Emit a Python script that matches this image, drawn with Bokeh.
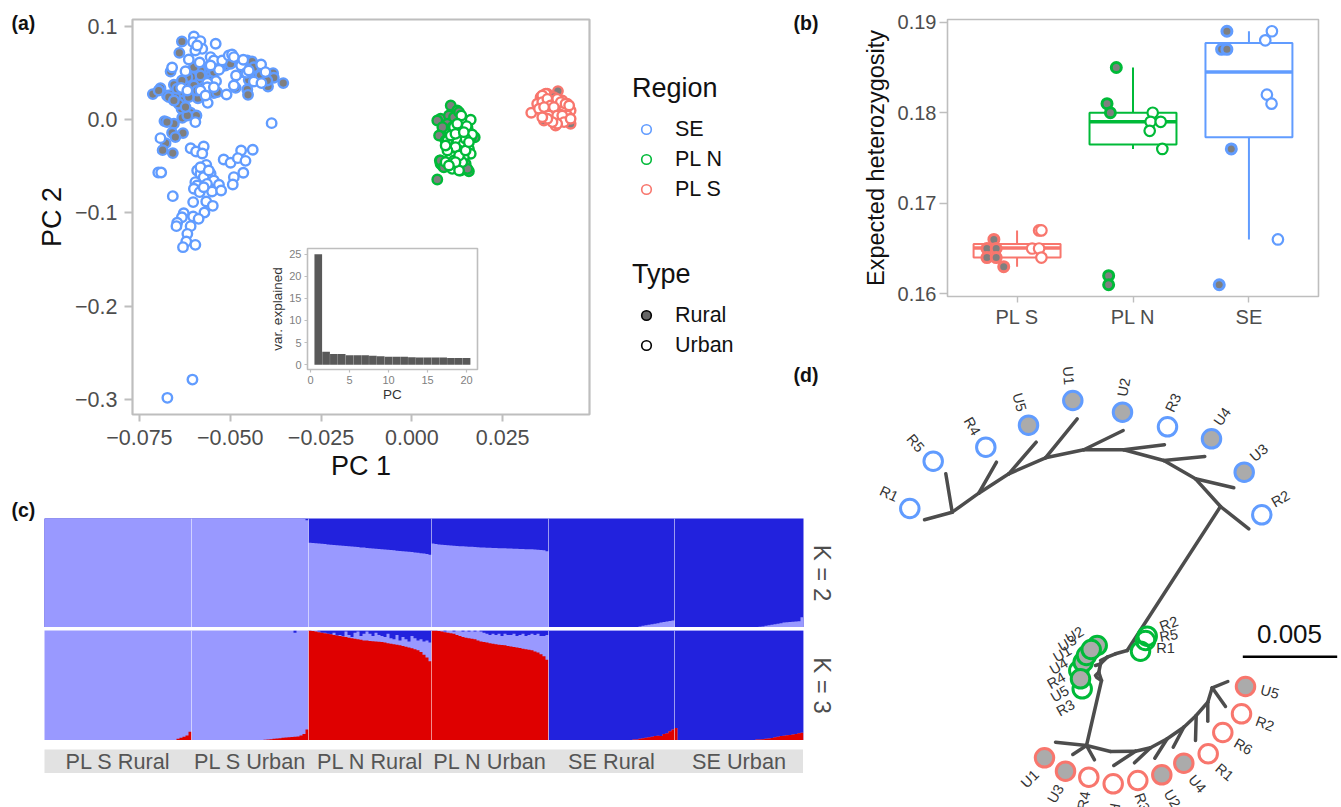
from bokeh.plotting import figure
from bokeh.models import (Column, FixedTicker, Range1d, Legend, LegendItem, Label, Title)
from bokeh.embed import file_html
from bokeh.resources import INLINE
from bokeh.core.properties import value

FONT = "Liberation Sans"
RED, GREEN, BLUE = "#F8766D", "#00BA38", "#619CFF"
GRID = "#BEBEBE"
TICK = "#4D4D4D"
GREY_FILL = "#7F7F7F"

# ---------- panel (a) : PCA ----------
se_rural_x = [-.0633,-.0640,-.0664,-.0575,-.0605,-.0556,-.0453,-.0440,-.0426,-.0382,-.0354,-.0380,-.0396,-.0449,-.0453,-.0451,-.0485,-.0552,-.0655,-.0692,-.0713,-.0674,-.0663,-.0642,-.0600,-.0556,-.0589,-.0637,-.0634,-.0609,-.0593,-.0632,-.0655,-.0681,-.0660,-.0630,-.0651,-.0678,-.0686,-.0658,-.0545,-.0628,-.0582,-.0485,-.0513,-.0545,-.0600,-.0651,-.0642,-.0674,-.0618,-.0545,-.0582,-.0426,-.0618,-.0582,-.0559,-.0646,-.0614,-.0573,-.0536,-.0591,-.0669,-.0697,-.0655,-.0623,-.0472,-.0499,-.0527,-.0417,-.0398,-.0467,-.0435,-.0600,-.0633]
se_rural_y = [.0841,.0719,.0519,.0515,.0458,.0583,.0637,.0626,.0530,.0501,.0394,.0451,.0358,.0429,.0326,.0268,.0343,.0487,.0376,.0340,.0276,.0261,.0268,.0279,.0308,.0301,.0232,.0207,.0118,.0075,.0046,.0021,-.0043,-.0014,-.0140,-.0143,-.0186,-.0251,-.0326,-.0358,.0286,.0386,.0422,.0637,.0583,.0512,.0368,.0243,.0172,-.0025,.0046,.0601,.0530,.0458,.0458,.0476,.0422,.0333,.0243,.0350,.0297,.0315,.0243,.0315,.0207,.0136,.0601,.0601,.0565,.0476,.0422,.0512,.0565,.0565,.0422]
se_urban_x = [-.0600,-.0602,-.0582,-.0577,-.0540,-.0596,-.0614,-.0584,-.0554,-.0545,-.0522,-.0504,-.0495,-.0470,-.0484,-.0455,-.0415,-.0403,-.0435,-.0414,-.0490,-.0510,-.0531,-.0539,-.0563,-.0623,-.0660,-.0635,-.0562,-.0596,-.0386,-.0692,-.0573,-.0609,-.0594,-.0577,-.0470,-.0438,-.0518,-.0499,-.0479,-.0458,-.0464,-.0490,-.0493,-.0566,-.0591,-.0582,-.0554,-.0573,-.0545,-.0596,-.0591,-.0564,-.0531,-.0600,-.0584,-.0550,-.0525,-.0658,-.0602,-.0566,-.0548,-.0571,-.0628,-.0633,-.0602,-.0587,-.0646,-.0648,-.0609,-.0618,-.0621,-.0630,-.0596,-.0698,-.0690,-.0554,-.0591,-.0563,-.0582,-.0545,-.0618,-.0568,-.0490,-.0464,-.0449,-.0582,-.0559,-.0573,-.0604,-.0673]
se_urban_y = [.0895,.0834,.0845,.0762,.0816,.0744,.0648,.0616,.0673,.0637,.0637,.0691,.0701,.0583,.0476,.0505,.0594,.0512,.0411,.0394,.0369,.0272,.0537,.0415,.0397,.0522,.0562,.0343,.0182,-.0025,-.0036,-.0197,-.0287,-.0305,-.0340,-.0362,-.0330,-.0322,-.0426,-.0462,-.0412,-.0441,-.0569,-.0616,-.0695,-.0484,-.0544,-.0580,-.0580,-.0616,-.0652,-.0670,-.0706,-.0688,-.0698,-.0741,-.0777,-.0770,-.0759,-.0820,-.0884,-.0877,-.0924,-.0996,-.1003,-.1046,-.1039,-.1064,-.1106,-.1142,-.1142,-.1225,-.1307,-.1368,-.1343,-.0566,-.0566,.0583,.0798,.0350,.0315,.0350,.0315,.0261,.0673,.0644,.0530,-.0509,-.0544,-.0724,-.2790,-.2986]
pln_rural_x = [.0070,.0157,.0079,.0102,.0148,.0079,.0102,.0107,.0081,.0173,.0125,.0084,.0098,.0088,.0111,.0153,.0077,.0134,.0070,.0084,.0075,.0093,.0079,.0088,.0153,.0162,.0157,.0116,.0130]
pln_rural_y = [-.0641,-.0552,-.0473,-.0501,-.0473,.0011,.0046,.0154,-.0158,-.0187,.0100,-.0491,-.0043,-.0187,-.0079,-.0079,-.0437,-.0544,-.0007,-.0079,-.0169,-.0222,-.0437,-.0509,-.0527,-.0193,-.0133,.0028,.0082]
pln_urban_x = [.0136,.0162,.0116,.0151,.0134,.0166,.0116,.0125,.0143,.0107,.0157,.0130,.0107,.0162,.0143,.0093,.0116,.0139,.0111,.0130,.0098,.0120,.0107,.0120,.0148,.0098,.0130,.0148,.0120,.0102,.0143,.0125,.0157,.0093]
pln_urban_y = [.0046,.0000,-.0079,-.0068,-.0169,-.0158,-.0222,-.0222,-.0258,-.0294,-.0312,-.0330,-.0383,-.0365,-.0401,-.0455,-.0437,-.0455,-.0527,-.0544,-.0222,-.0294,-.0169,-.0151,-.0204,-.0330,-.0383,-.0330,-.0455,-.0491,-.0133,-.0043,-.0240,-.0276]
pls_rural_x = [.03727,.04021,.03636,.04370,.04278,.03911,.04186,.03544]
pls_rural_y = [.0279,.0308,-.0007,-.0043,.0172,.0243,.0028,.0243]
pls_urban_x = [.03287,.03544,.03682,.03911,.04140,.04278,.04370,.03727,.03957,.04095,.03819,.04076,.03957,.04232,.03590,.03773,.04003,.04186,.03636,.03865,.04049,.04278,.0345,.0359,.0373,.0382,.0400,.0410,.0423,.0433,.0350,.0364,.0377,.0391,.0400,.0414,.0419,.0400,.0387,.0373,.0437,.0359]
pls_urban_y = [.0075,.0161,.0279,.0207,.0207,.0100,.0100,.0100,.0100,.0100,.0011,.0003,-.0061,.0011,.0261,.0190,.0154,.0136,.0082,.0046,.0064,.0046,.0172,.0190,.0225,.0154,.0225,.0190,.0172,.0154,.0118,.0136,.0046,.0136,.0046,.0046,-.0025,-.0043,-.0025,.0011,.0011,.0028]

# inset scree plot
pc = list(range(1, 21))
var_explained = [25.0,2.9,2.4,2.4,2.1,2.1,2.1,2.0,1.9,1.8,1.8,1.8,1.7,1.6,1.6,1.6,1.6,1.5,1.5,1.5]

# ---------- panel (b) : heterozygosity ----------
box_x = [1, 2, 3]
box_low = [.163, .176, .166]
box_q1 = [.1640, .1765, .1773]
box_med = [.16505, .1790, .1845]
box_q3 = [.1655, .1800, .1877]
box_high = [.167, .185, .189]
box_colors = [RED, GREEN, BLUE]
het_rural_x = [.80,.74,.82,.74,.82,.885, 1.856,1.776,1.805,1.79,1.79, 2.81,2.764,2.81,2.848,2.744]
het_rural_y = [.166,.165,.165,.164,.164,.163, .185,.181,.180,.162,.161, .189,.187,.187,.176,.161]
het_urban_x = [1.19,1.21,1.13,1.19,1.21, 2.17,2.152,2.239,2.144,2.253, 3.198,3.141,3.155,3.195,3.25]
het_urban_y = [.167,.167,.165,.165,.164, .18,.179,.179,.178,.176, .189,.188,.182,.181,.166]
het_rural_c = [RED]*6 + [GREEN]*5 + [BLUE]*5
het_urban_c = [RED]*5 + [GREEN]*5 + [BLUE]*5

# ---------- panel (c) : ancestry ----------
groups = ["PL S Rural", "PL S Urban", "PL N Rural", "PL N Urban", "SE Rural", "SE Urban"]
k2_light = [
    [1.0]*49,
    [1.0]*37 + [.995,.985],
    [.777,.775,.772,.770,.768,.765,.762,.760,.757,.755,.752,.750,.748,.745,.742,.740,.738,.735,.733,.730,.728,.725,.722,.720,.718,.715,.713,.710,.708,.705,.702,.700,.697,.695,.692,.688,.685,.681,.678,.674,.668],
    [.770,.765,.762,.760,.757,.755,.752,.750,.748,.746,.745,.743,.741,.740,.738,.736,.735,.733,.732,.731,.730,.729,.728,.727,.726,.725,.724,.723,.722,.721,.720,.719,.718,.717,.716,.714,.712,.708,.700],
    [0.0]*29 + [.005,.010,.015,.020,.025,.030,.035,.040,.045,.050,.055,.060,.065],
    [0.0]*26 + [.003,.005,.008,.010,.015,.020,.025,.030,.035,.040,.045,.048,.050,.052,.055,.058,.095],
]
k3_red = [
    [0.0]*43 + [.005,.015,.025,.035,.045,.08],
    [0.0]*23 + [.003,.006,.009,.012,.015,.018,.021,.024,.027,.030,.032,.034,.036,.045,.060,.100],
    [1.0,.995,.990,.985,.980,.975,.970,.965,.960,.955,.950,.945,.940,.935,.930,.925,.920,.915,.910,.908,.905,.903,.900,.898,.895,.890,.885,.880,.875,.870,.865,.860,.852,.845,.838,.830,.820,.805,.780,.755,.720],
    [1.0,1.0,.995,.990,.985,.980,.975,.970,.960,.950,.940,.935,.930,.925,.920,.910,.900,.895,.890,.885,.880,.875,.870,.868,.865,.860,.855,.850,.845,.840,.835,.830,.825,.820,.810,.800,.785,.765,.735],
    [0.0]*27 + [.005,.010,.008,.016,.020,.024,.030,.034,.040,.044,.040,.058,.066,.085,.100,.113],
    [0.0]*24 + [.003,.005,.008,.010,.012,.015,.018,.022,.030,.034,.040,.044,.048,.050,.055,.060,.066,.070,.080],
]
k3_dark = [
    [0.0]*49,
    [0.0]*34 + [.02] + [0.0]*4,
    [.00,.00,.00,.01,.03,.02,.04,.05,.02,.05,.04,.05,.01,.04,.06,.02,.01,.05,.03,.01,.03,.05,.02,.04,.05,.06,.03,.07,.08,.04,.09,.06,.08,.10,.05,.07,.09,.08,.10,.09,.11],
    [.00,.00,.00,.00,.01,.00,.00,.01,.00,.00,.01,.00,.01,.00,.01,.00,.01,.02,.03,.04,.03,.04,.03,.05,.03,.04,.04,.03,.05,.04,.03,.05,.04,.03,.04,.03,.05,.05,.04],
    [1.0]*42,
    [1.0]*43,
]
k_colors = {"light": "#9999FF", "dark": "#2222DD", "red": "#DF0000"}
strip_color = "#E2E2E2"

# ---------- panel (d) : unrooted tree ----------
edge_x0 = [951.7,951.7,951.7,978.3,978.3,1008.3,1008.3,1045,1045,1083.3,1083.3,1123.3,1123.3,1163.3,1163.3,1195,1195,1220,1220,1126.7,1115,1106.7,1100,1098.3,1101,1100,1098.3,1101,1106.7,1086,1086,1086,1086,1110,1135,1135,1150,1150,1166.7,1166.7,1183.3,1183.3,1195.7,1195.7,1207.3,1207.3,1211.7,1211.7]
edge_y0 = [511.7,511.7,511.7,492.7,492.7,473.3,473.3,457.3,457.3,449.3,449.3,449.3,449.3,460,460,478.3,478.3,506,506,650,653.3,656.7,663.3,671.7,680,663.3,671.7,680,656.7,745,745,745,745,751,750.7,750.7,747.3,747.3,738.3,738.3,726.7,726.7,715,715,701.7,701.7,687.3,687.3]
edge_x1 = [924,945.3,978.3,996,1008.3,1035.7,1045,1076.7,1083.3,1122.7,1123.3,1164,1163.3,1204.3,1195,1233.3,1220,1248.3,1126.7,1115,1106.7,1100,1098.3,1101,1086,1095,1095,1096,1100,1055,1072.3,1094,1110,1135,1113.3,1150,1134,1166.7,1154.3,1183.3,1172.7,1195.7,1195,1207.3,1207.3,1211.7,1225,1227.3]
edge_y1 = [519.3,473.3,492.7,461.7,473.3,441.7,457.3,418.3,449.3,430,449.3,444.3,460,456,478.3,487.3,506,528.3,650,653.3,656.7,663.3,671.7,680,745,665,675,676.7,660,741.7,754,759.3,751,750.7,765,747.3,762.3,738.3,757.7,726.7,746.7,715,740,701.7,720.7,687.3,706,681]
tip_labels_se = ["R1","R5","R4","U5","U1","U2","R3","U4","U3","R2"]
tip_x_se = [909.3,932.7,985.3,1028,1072.3,1122,1167,1211,1243.7,1261.3]
tip_y_se = [508,460.7,446.7,424.7,400,411.7,426.3,438.3,471.7,514.3]
lab_x_se = [888.5,915,971.7,1019,1068,1123.3,1172.7,1221.7,1258.3,1280]
lab_y_se = [493.3,442.7,425.7,401.7,375,386.7,402.3,416,452.3,498.3]
lab_a_se = [-25,-50,-60,-75,-85,80,65,55,40,30]
tip_labels_pln = ["R3","R4","U4","U1","U2","U3","U5","R2","R5","R1"]
tip_x_pln = [1081.7,1078.3,1082.7,1086,1096.7,1090.7,1080,1146.7,1145,1140]
tip_y_pln = [688.3,670,661.7,655,645,649,678.3,635.7,640,650.7]
lab_x_pln = [1065,1055.7,1058.3,1061.7,1074,1066.7,1059.3,1168.3,1168.3,1165]
lab_y_pln = [707.3,680,665.7,653.3,634.3,642.7,693.3,623.3,635,647.3]
lab_a_pln = [30,30,30,30,30,30,30,20,10,0]
tip_labels_pls = ["U1","U3","R4","R5","R3","U2","U4","R1","R6","R2","U5"]
tip_x_pls = [1044,1065,1088.3,1112.7,1137.3,1161.3,1183.3,1207.7,1222.3,1241,1245]
tip_y_pls = [757.3,770.7,776.7,783.3,780,774.3,762.7,753.3,732,713.3,686]
lab_x_pls = [1029.3,1055,1083.3,1113.3,1141.7,1171.7,1196.7,1224,1242.7,1264.3,1269.3]
lab_y_pls = [778.3,793.3,800,812,801.7,798.3,783.3,771.7,746,723.3,691.3]
lab_a_pls = [45,60,80,-100,-70,-60,-50,-40,-30,-20,-15]
tree_grey = "#ABABAB"


def place(fig, left, top):
    fig.styles = {"position": "absolute", "left": f"{left}px", "top": f"{top}px"}
    return fig


def base(fw, fh, xr, yr, L=0, R=0, T=0, B=0):
    p = figure(width=fw + L + R, height=fh + T + B, frame_width=fw, frame_height=fh,
               x_range=xr, y_range=yr, toolbar_location=None, output_backend="svg",
               min_border_left=L, min_border_right=R, min_border_top=T, min_border_bottom=B,
               tools="")
    p.frame_align = False
    p.grid.visible = False
    p.background_fill_alpha = 0
    p.border_fill_alpha = 0
    p.outline_line_color = None
    return p


def style_axis(ax, size, color=TICK, tick=7, width=2, tcolor=GRID, standoff=3):
    ax.axis_line_color = None
    ax.major_tick_line_color = tcolor
    ax.major_tick_line_width = width
    ax.major_tick_in = 0
    ax.major_tick_out = tick
    ax.minor_tick_line_color = None
    ax.major_label_text_font = FONT
    ax.major_label_text_font_size = size
    ax.major_label_text_color = color
    ax.major_label_standoff = standoff


# panel a
pa = base(457, 395, Range1d(-.0769, .0489), Range1d(-.3165, .1077), L=132, R=10, T=19, B=75)
pa.outline_line_color = GRID
pa.outline_line_width = 2.2
for xs, ys, c, fill in [
    (se_rural_x, se_rural_y, BLUE, GREY_FILL), (se_urban_x, se_urban_y, BLUE, "white"),
    (pln_rural_x, pln_rural_y, GREEN, GREY_FILL), (pln_urban_x, pln_urban_y, GREEN, "white"),
    (pls_rural_x, pls_rural_y, RED, GREY_FILL), (pls_urban_x, pls_urban_y, RED, "white")]:
    pa.scatter(xs, ys, size=9.5, fill_color=fill, line_color=c, line_width=2.4)
pa.xaxis.ticker = FixedTicker(ticks=[-.075, -.05, -.025, 0, .025])
pa.yaxis.ticker = FixedTicker(ticks=[-.3, -.2, -.1, 0, .1])
pa.xaxis.major_label_overrides = {-.075: "\u22120.075", -.05: "\u22120.050", -.025: "\u22120.025", 0: "0.000", .025: "0.025"}
pa.yaxis.major_label_overrides = {-.3: "\u22120.3", -.2: "\u22120.2", -.1: "\u22120.1", 0: "0.0", .1: "0.1"}
style_axis(pa.xaxis[0], "21.5px", tick=7, standoff=8)
style_axis(pa.yaxis[0], "21.5px", tick=8, standoff=7)
for ax, t, so in ((pa.xaxis[0], "PC 1", 3), (pa.yaxis[0], "PC 2", 5)):
    ax.axis_label = t
    ax.axis_label_text_font = FONT
    ax.axis_label_text_font_size = "27px"
    ax.axis_label_text_font_style = "normal"
    ax.axis_label_text_color = "#111111"
    ax.axis_label_standoff = so

# inset
pi_ = base(170, 121, Range1d(-.38, 21.4), Range1d(-1.1, 26.3), L=50, R=4, T=2, B=42)
pi_.outline_line_color = GRID
pi_.outline_line_width = 1.6
pi_.vbar(x=pc, top=var_explained, width=0.98, fill_color="#595959", line_color=None)
pi_.xaxis.ticker = FixedTicker(ticks=[0, 5, 10, 15, 20])
pi_.yaxis.ticker = FixedTicker(ticks=[0, 5, 10, 15, 20, 25])
style_axis(pi_.xaxis[0], "11px", "#7F7F7F", tick=3, width=1.2, standoff=3)
style_axis(pi_.yaxis[0], "11px", "#7F7F7F", tick=3, width=1.2, standoff=3)
for ax, t, so in ((pi_.xaxis[0], "PC", 0), (pi_.yaxis[0], "var. explained", 1)):
    ax.axis_label = t
    ax.axis_label_text_font = FONT
    ax.axis_label_text_font_size = "13.5px"
    ax.axis_label_text_font_style = "normal"
    ax.axis_label_text_color = "#333333"
    ax.axis_label_standoff = so

# legend
pl = base(150, 310, Range1d(0, 1), Range1d(0, 1))
pl.axis.visible = False
region_items = []
for name, c in [("SE", BLUE), ("PL N", GREEN), ("PL S", RED)]:
    r = pl.scatter([-1], [-1], size=9.5, fill_color="white", line_color=c, line_width=1.6)
    region_items.append(LegendItem(label=name, renderers=[r]))
type_items = []
for name, fill in [("Rural", "#666666"), ("Urban", "white")]:
    r = pl.scatter([-1], [-1], size=9.5, fill_color=fill, line_color="black", line_width=1.6)
    type_items.append(LegendItem(label=name, renderers=[r]))
for items, title, loc in [(region_items, "Region", (12, 166)), (type_items, "Type", (12, 10))]:
    lg = Legend(items=items, title=title, location=loc, margin=0, padding=0, spacing=0,
                border_line_color=None, background_fill_alpha=0,
                glyph_height=24, glyph_width=28, label_height=30, label_standoff=15,
                title_text_font=FONT, title_text_font_size="27px", title_text_font_style="normal",
                title_text_color="#111111", title_standoff=10,
                label_text_font=FONT, label_text_font_size="21.5px", label_text_color="#111111")
    pl.add_layout(lg, "center")

# panel b
pb = base(371, 277, Range1d(0.4, 3.6), Range1d(.1597, .1903), L=88, R=3, T=19, B=35)
pb.outline_line_color = GRID
pb.outline_line_width = 1.6
pb.segment(box_x, box_q3, box_x, box_high, line_color=box_colors, line_width=2)
pb.segment(box_x, box_q1, box_x, box_low, line_color=box_colors, line_width=2)
pb.vbar(x=box_x, bottom=box_q1, top=box_q3, width=.75, fill_color="white", fill_alpha=0, line_color=box_colors, line_width=2)
pb.segment([x - .375 for x in box_x], box_med, [x + .375 for x in box_x], box_med, line_color=box_colors, line_width=3.4)
pb.scatter(het_rural_x, het_rural_y, size=10, fill_color=GREY_FILL, line_color=het_rural_c, line_width=3)
pb.scatter(het_urban_x, het_urban_y, size=10.5, fill_color="white", line_color=het_urban_c, line_width=2.2)
pb.xaxis.ticker = FixedTicker(ticks=box_x)
pb.xaxis.major_label_overrides = {1: "PL S", 2: "PL N", 3: "SE"}
pb.yaxis.ticker = FixedTicker(ticks=[.16, .17, .18, .19])
style_axis(pb.xaxis[0], "20px", tick=6, width=1.4)
style_axis(pb.yaxis[0], "20px", tick=8, width=1.4)
pb.yaxis[0].axis_label = "Expected heterozygosity"
pb.yaxis[0].axis_label_text_font = FONT
pb.yaxis[0].axis_label_text_font_size = "23.5px"
pb.yaxis[0].axis_label_text_font_style = "normal"
pb.yaxis[0].axis_label_text_color = "#111111"
pb.yaxis[0].axis_label_standoff = 6

# panel c
n_samples = sum(len(v) for v in k2_light)
xr_c = Range1d(0, n_samples)
starts = []
s = 0
for v in k2_light:
    starts.append(s)
    s += len(v)
bounds = starts[1:]
edges = list(range(n_samples + 1))
l2 = [a for v in k2_light for a in v]
r3 = [a for v in k3_red for a in v]
d3 = [a for v in k3_dark for a in v]


def struct_fig(fh, label):
    p = base(759, fh, xr_c, Range1d(0, 1), R=50)
    p.axis.visible = False
    p.add_layout(Title(text=label, text_font=FONT, text_font_size="24px", text_font_style="normal",
                       text_color=TICK, align="center", standoff=11), "right")
    return p


pc2 = struct_fig(109, "K = 2")
pc2.background_fill_color = k_colors["dark"]
pc2.background_fill_alpha = 1
pc2.varea_step(x=edges, y1=[0] * len(edges), y2=l2 + l2[-1:], step_mode="after", fill_color=k_colors["light"])
pc3 = struct_fig(110, "K = 3")
pc3.background_fill_color = k_colors["light"]
pc3.background_fill_alpha = 1
top3 = [max(1 - d, r) for d, r in zip(d3, r3)]
pc3.varea_step(x=edges, y1=top3 + top3[-1:], y2=[1] * len(edges), step_mode="after", fill_color=k_colors["dark"])
pc3.varea_step(x=edges, y1=[0] * len(edges), y2=r3 + r3[-1:], step_mode="after", fill_color=k_colors["red"])
for p in (pc2, pc3):
    p.segment(bounds, [0] * len(bounds), bounds, [1] * len(bounds), line_color="white", line_alpha=.55, line_width=1)

ps = base(759, 24, xr_c, Range1d(0, 1))
ps.axis.visible = False
ps.background_fill_color = strip_color
ps.background_fill_alpha = 1
centers = [st + len(v) / 2 for st, v in zip(starts, k2_light)]
ps.text(centers, [.5] * 6, text=groups, text_font=value(FONT), text_font_size="21.7px",
        text_color="#555555", text_align="center", text_baseline="middle")

# panel d
pd_ = base(481, 447, Range1d(860, 1341), Range1d(807, 360))
pd_.axis.visible = False
pd_.segment(edge_x0, edge_y0, edge_x1, edge_y1, line_color="#4D4D4D", line_width=3.5, line_cap="round")
for xs, ys, names, lx, ly, la, c in [
    (tip_x_se, tip_y_se, tip_labels_se, lab_x_se, lab_y_se, lab_a_se, BLUE),
    (tip_x_pln, tip_y_pln, tip_labels_pln, lab_x_pln, lab_y_pln, lab_a_pln, GREEN),
    (tip_x_pls, tip_y_pls, tip_labels_pls, lab_x_pls, lab_y_pls, lab_a_pls, RED)]:
    fills = [tree_grey if n.startswith("U") else "white" for n in names]
    pd_.scatter(xs, ys, size=18.5, fill_color=fills, fill_alpha=[1 if f != "white" else 0 for f in fills],
                line_color=c, line_width=3)
    pd_.text(lx, ly, text=names, angle=la, angle_units="deg", text_font=value(FONT), text_font_size="14.5px",
             text_color="#333333", text_align="center", text_baseline="middle")
scale_bar = [94.4]
pd_.segment([1242.3], [656.3], [1242.3 + scale_bar[0]], [656.3], line_color="black", line_width=2.5)
pd_.text([1289], [633], text=["0.005"], text_font=value(FONT), text_font_size="26px", text_color="#111111",
         text_align="center", text_baseline="middle")

# panel letters
po = base(1341, 807, Range1d(0, 1341), Range1d(807, 0))
po.axis.visible = False
for t, x, y in [("(a)", 11, 22), ("(b)", 793, 22), ("(c)", 11, 509), ("(d)", 793, 374)]:
    po.add_layout(Label(x=x, y=y, text=t, text_font=FONT, text_font_size="19.5px", text_font_style="bold",
                        text_color="#111111", text_baseline="middle"))

children = [
    place(pa, 0, 0), place(pi_, 257, 246), place(pl, 620, 60), place(pb, 859, 0),
    place(pc2, 44, 518), place(pc3, 44, 630), place(ps, 44, 749), place(pd_, 860, 360), place(po, 0, 0),
]
root = Column(children=children, width=1341, height=807,
              styles={"position": "absolute", "left": "0px", "top": "0px", "overflow": "hidden"})
open("out.html", "w").write(file_html(root, INLINE))
